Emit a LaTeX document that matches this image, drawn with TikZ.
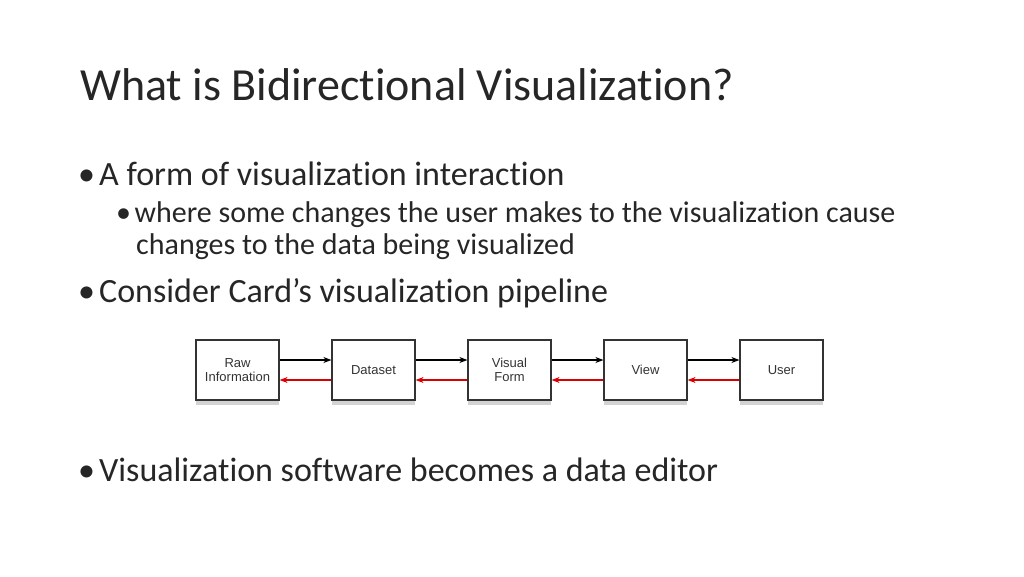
\documentclass[tikz,border=0pt]{standalone}
\usepackage{fontspec}
\setmainfont[RawFeature={-liga}]{Carlito}
\newfontfamily\boxfont{Liberation Sans}
\usetikzlibrary{arrows.meta,shadows}
\newcommand{\mybul}{\textbullet\hspace{0.12em}}
\begin{document}
\begin{tikzpicture}[x=1pt,y=-1pt,
  stage/.style={draw=black!80,line width=1.2pt,fill=white,minimum width=83pt,minimum height=60pt,align=center,font=\boxfont\fontsize{13}{14}\selectfont,text=black!80,drop shadow={shadow xshift=0pt,shadow yshift=-5pt,opacity=0.35}},
  fwd/.style={-{Stealth[length=8pt,width=6pt]},line width=1.2pt,black},
  bwd/.style={-{Stealth[length=8pt,width=6pt]},line width=1.2pt,red!85!black},
  txt/.style={anchor=base west,inner sep=0pt,text=black!85}]
\useasboundingbox (0,0) rectangle (1024,576);
\node[txt,font=\fontsize{46}{50}\selectfont] (title) at (80,100) {What is Bidirectional Visualization?};
\node[txt,font=\fontsize{34}{38}\selectfont] (b1) at (78,185) {\mybul A form of visualization interaction};
\node[txt,font=\fontsize{30}{34}\selectfont] (b2) at (116,222) {\mybul where some changes the user makes to the visualization cause};
\node[txt,font=\fontsize{30}{34}\selectfont] (b2b) at (136,254) {changes to the data being visualized};
\node[txt,font=\fontsize{34}{38}\selectfont] (b3) at (78,302) {\mybul Consider Card’s visualization pipeline};
\node[txt,font=\fontsize{34}{38}\selectfont] (b4) at (78,481) {\mybul Visualization software becomes a data editor};
\node[stage] (n1) at (237.5,370) {Raw\\Information};
\node[stage] (n2) at (373.5,370) {Dataset};
\node[stage] (n3) at (509.5,370) {Visual\\Form};
\node[stage] (n4) at (645.5,370) {View};
\node[stage] (n5) at (781.5,370) {User};
\foreach \a/\b in {n1/n2,n2/n3,n3/n4,n4/n5}{
  \draw[fwd] ([yshift=10pt]\a.east) -- ([yshift=10pt]\b.west);
  \draw[bwd] ([yshift=-10pt]\b.west) -- ([yshift=-10pt]\a.east);
}
\end{tikzpicture}
\end{document}
